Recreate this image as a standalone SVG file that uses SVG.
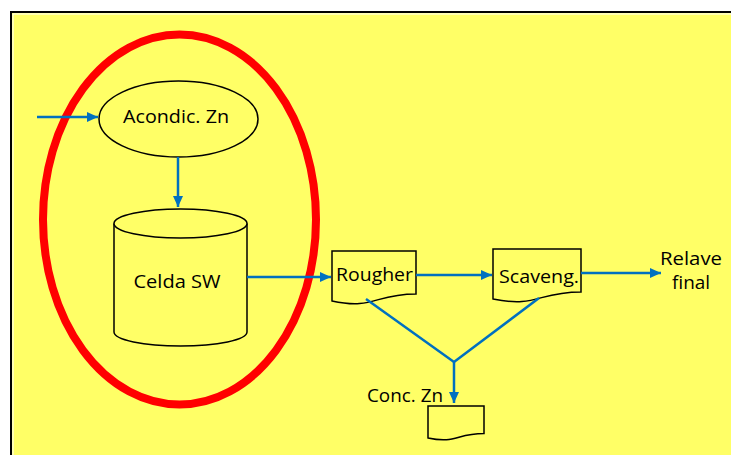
<svg xmlns="http://www.w3.org/2000/svg" width="731" height="455" viewBox="0 0 731 455">
  <style>
    .shape { fill: #FFFF66; stroke: #000; stroke-width: 1.5; }
    .conn { stroke: #0070C0; stroke-width: 2.5; fill: none; }
    .lbl { font-family: "Open Sans", "Noto Sans", "Liberation Sans", sans-serif; font-size: 19px; fill: #000; text-anchor: middle; }
  </style>
  <defs>
    <marker id="arrow" markerUnits="userSpaceOnUse" markerWidth="11" markerHeight="10" refX="11" refY="5" orient="auto">
      <path d="M0,0 L11,5 L0,10 Z" fill="#0070C0"/>
    </marker>
  </defs>

  <!-- background panel with double frame -->
  <rect x="0" y="0" width="731" height="455" fill="#fff"/>
  <rect x="11" y="12" width="740" height="460" fill="#FFFF66" stroke="#000" stroke-width="2"/>
  <rect x="13" y="14" width="740" height="460" fill="none" stroke="#fff" stroke-width="1"/>

  <!-- highlight around the conditioning stage -->
  <ellipse id="highlight" cx="179.5" cy="219.5" rx="136.5" ry="185" fill="none" stroke="#FF0000" stroke-width="8"/>

  <g id="acondic">
    <ellipse class="shape" cx="178.5" cy="119" rx="79.5" ry="38"/>
    <text class="lbl" x="176" y="123" textLength="106" lengthAdjust="spacingAndGlyphs">Acondic. Zn</text>
  </g>

  <g id="celda-sw">
    <path class="shape" d="M114,223.5 V332 A66.5,14 0 0 0 247,332 V223.5"/>
    <ellipse class="shape" cx="180.5" cy="223.5" rx="66.5" ry="14.5"/>
    <text class="lbl" x="177" y="288" textLength="87" lengthAdjust="spacingAndGlyphs">Celda SW</text>
  </g>

  <g id="rougher">
    <path class="shape" d="M332,251 H416 V293.9 C374,293.9 374,310.2 332,301 Z"/>
    <text class="lbl" x="374.5" y="281" textLength="77" lengthAdjust="spacingAndGlyphs">Rougher</text>
  </g>

  <g id="scaveng">
    <path class="shape" d="M493,249 H581 V291.9 C537,291.9 537,308.2 493,299 Z"/>
    <text class="lbl" x="539" y="283" textLength="80" lengthAdjust="spacingAndGlyphs">Scaveng.</text>
  </g>

  <g id="relave-final">
    <text class="lbl" x="691" y="265" textLength="62" lengthAdjust="spacingAndGlyphs">Relave</text>
    <text class="lbl" x="691" y="289" textLength="38" lengthAdjust="spacingAndGlyphs">final</text>
  </g>

  <g id="conc-zn">
    <text class="lbl" x="405" y="402" textLength="76" lengthAdjust="spacingAndGlyphs">Conc. Zn</text>
    <path class="shape" d="M428,406 H484 V433.5 C456,433.5 456,444 428,438 Z"/>
  </g>

  <g id="connectors">
    <line class="conn" x1="37" y1="117" x2="98" y2="117" marker-end="url(#arrow)"/>
    <line class="conn" x1="178" y1="157" x2="178" y2="207" marker-end="url(#arrow)"/>
    <line class="conn" x1="247" y1="277" x2="331" y2="277" marker-end="url(#arrow)"/>
    <line class="conn" x1="416" y1="275" x2="492" y2="275" marker-end="url(#arrow)"/>
    <line class="conn" x1="581" y1="273" x2="661" y2="273" marker-end="url(#arrow)"/>
    <polyline class="conn" points="366,299 454,362 539,298"/>
    <line class="conn" x1="454" y1="362" x2="454" y2="403" marker-end="url(#arrow)"/>
  </g>
</svg>
